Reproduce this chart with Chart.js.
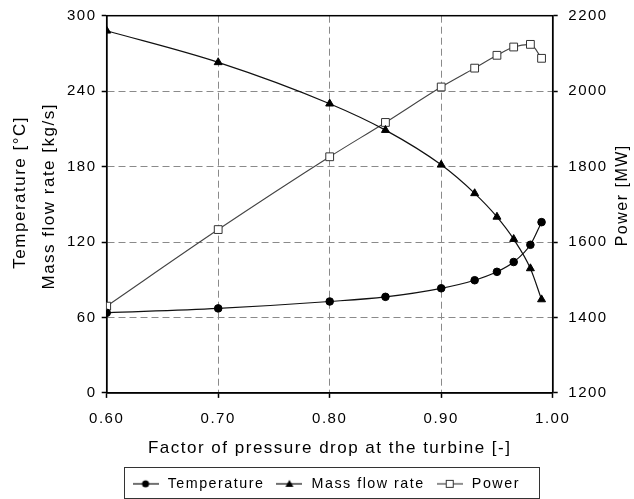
<!DOCTYPE html>
<html><head><meta charset="utf-8">
<style>html,body{margin:0;padding:0;background:#fff;}canvas{display:block;}</style>
<script src="https://cdn.jsdelivr.net/npm/chart.js@4"></script>
</head><body>
<canvas id="c" width="634" height="499"></canvas>
<script>
// ---- data ----
const factor      = [0.60, 0.70, 0.80, 0.85, 0.90, 0.93, 0.95, 0.965, 0.98, 0.99];
const temperature = [63.7, 67.2, 72.7, 76.4, 83.2, 89.6, 96.3, 104.1, 117.8, 135.8];
const massFlow    = [288.0, 262.9, 230.0, 209.0, 181.4, 158.7, 140.0, 122.3, 99.0, 74.3];
const power       = [1430, 1633, 1826, 1917, 2011, 2061, 2095, 2117, 2124, 2087];
const seriesNames = ['Temperature', 'Mass flow rate', 'Power'];
const xTitle      = 'Factor of pressure drop at the turbine [-]';
const yLeftTitle  = ['Temperature [°C]', 'Mass flow rate [kg/s]'];
const yRightTitle = 'Power [MW]';
const xMin = 0.6, xMax = 1.0, xStep = 0.1;
const yMin = 0, yMax = 300, yStep = 60;
const y1Min = 1200, y1Max = 2200, y1Step = 200;

const FONT = 'Liberation Sans';
const SPACING = '1.5px';
Chart.defaults.font.family = FONT;
Chart.defaults.color = '#000';

const pts = (ys) => factor.map((x, i) => ({x: x, y: ys[i]}));

function icon(kind, lineColor) {
  const c = document.createElement('canvas');
  c.width = 26; c.height = 12;
  const g = c.getContext('2d');
  g.strokeStyle = lineColor; g.lineWidth = 1.2;
  g.beginPath(); g.moveTo(0, 6); g.lineTo(26, 6); g.stroke();
  g.lineWidth = 1;
  if (kind === 'circle') {
    g.fillStyle = '#000'; g.beginPath(); g.arc(13, 6, 3.5, 0, Math.PI * 2); g.fill();
  } else if (kind === 'triangle') {
    g.fillStyle = '#000'; g.beginPath(); g.moveTo(13, 2); g.lineTo(17, 9); g.lineTo(9, 9); g.closePath(); g.fill();
  } else {
    g.fillStyle = '#fff'; g.strokeStyle = '#333';
    g.fillRect(9.5, 2.5, 7, 7); g.strokeRect(9.5, 2.5, 7, 7);
  }
  return c;
}
const icons = [icon('circle', '#111'), icon('triangle', '#111'), icon('rect', '#444')];

function rotatedText(ctx, text, size, cx, cy) {
  ctx.save();
  ctx.letterSpacing = SPACING;
  ctx.font = size + 'px "' + FONT + '"';
  ctx.fillStyle = '#000';
  ctx.textAlign = 'center'; ctx.textBaseline = 'middle';
  ctx.translate(cx, cy);
  ctx.rotate(-Math.PI / 2);
  ctx.fillText(text, 0, 0);
  ctx.restore();
}

const framePlugin = {
  id: 'frame',
  beforeUpdate(chart) { chart.ctx.letterSpacing = SPACING; },
  beforeLayout(chart) { chart.ctx.letterSpacing = SPACING; },
  afterLayout(chart) {
    // legend block sits a little left of the plot centre in the reference
    if (chart.legend) { chart.legend.left -= 4.5; chart.legend.right -= 4.5; }
  },
  beforeDraw(chart) { chart.ctx.letterSpacing = SPACING; },
  beforeDatasetsDraw(chart) {
    const a = chart.chartArea, ctx = chart.ctx;
    ctx.save();
    ctx.strokeStyle = '#000'; ctx.lineWidth = 1.5; ctx.setLineDash([]);
    ctx.strokeRect(a.left, a.top, a.right - a.left, a.bottom - a.top);
    ctx.restore();
  },
  afterDraw(chart) {
    const ctx = chart.ctx, a = chart.chartArea;
    const mid = (a.top + a.bottom) / 2;
    rotatedText(ctx, yLeftTitle[0], 17, 20, mid - 12);
    rotatedText(ctx, yLeftTitle[1], 17, 49, mid - 8);
    rotatedText(ctx, yRightTitle, 16, 623, mid - 9);
    const hb = chart.legend && chart.legend.legendHitBoxes;
    if (hb && hb.length) {
      const last = hb[hb.length - 1];
      const cy = hb[0].top + hb[0].height / 2;
      const l = Math.round(hb[0].left - 6.7) + 0.5;
      const r = Math.round(last.left + last.width + 19.5) + 0.5;
      const t = Math.round(cy - 16.5) + 0.5;
      const b = Math.round(cy + 14.5) + 0.5;
      ctx.save();
      ctx.strokeStyle = '#333'; ctx.lineWidth = 1;
      ctx.strokeRect(l, t, r - l, b - t);
      ctx.restore();
    }
  }
};

const tickFont = {family: FONT, size: 15};
const titleFont = {family: FONT, size: 17};

new Chart(document.getElementById('c'), {
  type: 'scatter',
  data: {
    datasets: [
      {label: seriesNames[0], data: pts(temperature), yAxisID: 'y', showLine: true,
       borderColor: '#111', borderWidth: 1.2, pointStyle: 'circle', pointRadius: 3.8,
       pointBackgroundColor: '#000', pointBorderColor: '#000', pointBorderWidth: 1,
       cubicInterpolationMode: 'monotone'},
      {label: seriesNames[1], data: pts(massFlow), yAxisID: 'y', showLine: true,
       borderColor: '#111', borderWidth: 1.2, pointStyle: 'triangle', pointRadius: 4.6,
       pointBackgroundColor: '#000', pointBorderColor: '#000', pointBorderWidth: 1,
       cubicInterpolationMode: 'monotone'},
      {label: seriesNames[2], data: pts(power), yAxisID: 'y1', showLine: true,
       borderColor: '#444', borderWidth: 1.1, pointStyle: 'rect', pointRadius: 5.5,
       pointBackgroundColor: '#fff', pointBorderColor: '#333', pointBorderWidth: 1,
       cubicInterpolationMode: 'monotone'}
    ]
  },
  options: {
    responsive: false, animation: false, devicePixelRatio: 1,
    layout: {padding: {top: 15.7, left: 0, right: 0, bottom: -2.0}},
    plugins: {
      tooltip: {enabled: false},
      legend: {
        position: 'bottom', fullSize: false,
        labels: {
          usePointStyle: true, pointStyleWidth: 30, padding: 10,
          font: {family: FONT, size: 14.3}, color: '#000',
          generateLabels: (chart) => chart.data.datasets.map((ds, i) => ({
            text: ds.label, pointStyle: icons[i], fillStyle: 'rgba(0,0,0,0)',
            strokeStyle: 'rgba(0,0,0,0)', lineWidth: 0, hidden: false,
            datasetIndex: i, fontColor: '#000'
          }))
        }
      }
    },
    scales: {
      x: {
        type: 'linear', position: 'bottom', min: xMin, max: xMax,
        ticks: {stepSize: xStep, callback: (v) => Number(v).toFixed(2), font: tickFont,
                color: '#000', padding: 11.5, maxRotation: 0, autoSkip: false},
        grid: {color: '#8a8a8a', lineWidth: 1, tickColor: '#000', tickLength: 5, tickWidth: 1.5},
        border: {display: true, color: '#000', width: 1.5, dash: [7, 4]},
        title: {display: true, text: xTitle, font: titleFont, color: '#000', padding: {top: 0, bottom: 8.3}},
        afterFit: (s) => { s.height = 73.8; }
      },
      y: {
        type: 'linear', position: 'left', min: yMin, max: yMax,
        ticks: {stepSize: yStep, font: tickFont, color: '#000', padding: 5.2, callback: (v) => String(v)},
        grid: {color: '#8a8a8a', lineWidth: 1, tickColor: '#000', tickLength: 5, tickWidth: 1.5},
        border: {display: true, color: '#000', width: 1.5, dash: [7, 4]},
        title: {display: false},
        afterFit: (s) => { s.width = 106.7; }
      },
      y1: {
        type: 'linear', position: 'right', min: y1Min, max: y1Max,
        ticks: {stepSize: y1Step, font: {family: FONT, size: 15, lineHeight: 0.6}, color: '#000',
                padding: 10.6, callback: (v) => String(v)},
        grid: {drawOnChartArea: false, tickColor: '#000', tickLength: 5, tickWidth: 1.5},
        border: {display: true, color: '#000', width: 1.5},
        afterFit: (s) => { s.width = 81.3; }
      }
    }
  },
  plugins: [framePlugin]
});
</script>
</body></html>
